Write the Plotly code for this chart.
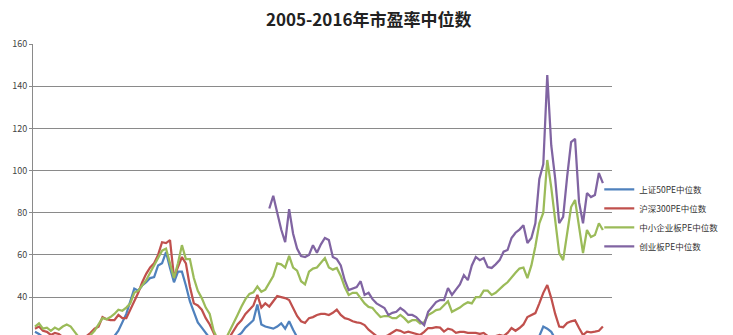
import plotly.graph_objects as go

# month index 0..143 (monthly, 2005-2016)
months = list(range(144))

sz50 = [23.5, 22.5, 21, 20, 19, 19, 18.5, 18, 18, 17.5, 17, 16.5, 16, 16.5, 17, 17.5,
        18, 18.5, 19.5, 20.5, 21.5, 24, 28, 32, 38, 44, 43, 45.5, 47, 49, 49.5, 55,
        56, 61.3, 53.8, 47, 52, 52, 45.5, 38, 33, 28, 25.5, 23, 21, 18, 15, 13.5,
        14, 16, 18.5, 21.5, 23, 25.5, 27.5, 29, 36.5, 27, 26, 25.5, 25, 26, 27.5, 25,
        28.5, 24.5, 21, 19, 18, 17.5, 17.5, 17, 17, 17, 16.5, 16.5, 16, 15.5, 15, 14.5,
        14, 13.5, 13, 12.5, 12, 11.5, 11, 11, 10.5, 10.5, 10, 10, 10, 9.5, 9.5, 9.5,
        9, 9, 9, 9.5, 9.5, 10, 10, 10.5, 10.5, 10, 10, 10.5, 10.5, 11, 11, 11,
        11, 11, 11.5, 11.5, 12, 12, 12.5, 13, 14, 15, 16, 17, 18, 19, 19, 21.5,
        26, 25, 23.5, 20, 17, 16, 16.5, 17, 17, 16, 15, 15.5, 15.5, 15.5, 15.5, 16]

hs300 = [25, 26, 24, 23.5, 22, 23, 22.5, 21, 20.5, 20, 19.5, 19, 20, 21.5, 23, 25,
         26, 30.5, 29.5, 29, 29, 31.5, 30, 30, 34, 38, 42, 47, 51, 54, 56, 60,
         66, 65.6, 67, 49.5, 54, 59, 56, 45, 37, 36, 34, 30, 27, 23, 19, 17,
         18, 21, 24, 27, 29, 32, 34, 36, 41, 35, 37, 35.5, 38, 40.5, 40, 39.5,
         38.6, 35, 31, 28.5, 27.7, 30, 30.5, 31.5, 32, 32, 31.5, 32.5, 34, 31.5, 30, 29.5,
         28.5, 28, 27.7, 26.7, 24.5, 23, 21.5, 21, 21, 22, 23, 24.4, 24, 23, 23.6, 23,
         22.5, 22, 23.5, 25.3, 25.3, 25.7, 25.5, 23.6, 25, 24.5, 23, 23.5, 23.5, 23, 23, 23,
         22.5, 23, 21.5, 21, 21.5, 22, 21.5, 23, 25.3, 24, 25.3, 27, 30.5, 31.5, 32.4, 37,
         42, 45.7, 39.5, 32, 26, 25.7, 27.7, 28.5, 29, 25.3, 22, 23.6, 23.3, 23.6, 24, 26]

zxb = [26, 27.5, 25, 25.5, 24, 25.5, 24.5, 26, 27, 26, 23.5, 21, 20, 19.5, 22, 24,
       27, 30, 29.5, 30.5, 32, 34, 33.5, 35, 37, 42, 43, 45.5, 48, 51.5, 55, 59,
       62, 63, 56, 49, 56, 64.6, 58, 58, 49, 43, 39.5, 35, 32, 24, 20, 18,
       20, 23.6, 27.5, 31.5, 35.5, 39, 41.5, 42.2, 45, 42.5, 43.5, 47, 50, 56, 55.5, 54,
       59.5, 54, 52.5, 47.5, 46, 52, 53.5, 54, 56, 58.5, 54, 53, 53.8, 50, 44.7, 41,
       42, 42, 39.5, 37, 35.3, 34.8, 32.5, 30.5, 31, 31, 30, 30, 31.5, 30, 28, 29,
       29, 27.5, 28, 31.5, 32.5, 33.8, 34.2, 36, 38, 33, 34, 35, 36.5, 37.5, 37, 40,
       40, 43, 43, 41, 42, 44, 45.5, 47, 49.5, 51.5, 53.5, 54, 49, 55, 64, 75,
       80, 105, 92, 76.5, 60.8, 57.5, 70.8, 82.7, 86, 73, 60.8, 71.8, 68.5, 69.4, 75, 71.8]

cyb_start = 59
cyb = [82, 88, 80, 72, 66, 81.7, 70, 63, 59.4, 59, 60, 64.6, 61, 65, 68, 67,
       59, 58, 55, 48, 43.3, 44, 44.7, 47.5, 41, 42, 39, 37, 36, 34.8, 31.5, 32.5,
       33, 34.8, 33.5, 31.5, 31.5, 30.5, 28.5, 26.7, 33, 35.5, 37.6, 38.6, 38.6, 44.3, 41, 43.5,
       46, 50.4, 48, 55, 59, 57.5, 58.5, 54.2, 53.8, 55.5, 57.5, 61.5, 62.3, 68, 70.5, 72,
       74.1, 65.6, 68, 75, 96, 103, 145.3, 112, 96, 75, 78, 97, 113.5, 115, 85, 75,
       89.3, 87.4, 88.4, 98.8, 94]

names = ["上证50PE中位数", "沪深300PE中位数", "中小企业板PE中位数", "创业板PE中位数"]
colors = ["#4F81BD", "#C0504D", "#9BBB59", "#8064A2"]

series_x = [months, months, months, months[cyb_start:cyb_start + len(cyb)]]
series_y = [sz50, hs300, zxb, cyb]

fig = go.Figure()
for nm, c, xs, ys in zip(names, colors, series_x, series_y):
    fig.add_trace(go.Scatter(x=xs, y=ys, mode="lines", name=nm,
                             line=dict(color=c, width=2.25)))

fig.update_layout(
    width=733, height=335,
    margin=dict(l=33, r=121, t=44, b=0, autoexpand=False),
    paper_bgcolor="white", plot_bgcolor="white",
    font=dict(family="Noto Sans CJK SC", color="#333333"),
    title=dict(text="<b>2005-2016年市盈率中位数</b>", x=0.503, xanchor="center",
               y=0.94, yanchor="middle", font=dict(size=17, color="#222222")),
    showlegend=True,
    legend=dict(x=0.978, xanchor="left", y=0.55, yanchor="top",
                font=dict(size=8.5, color="#333333"), bgcolor="rgba(0,0,0,0)",
                tracegroupgap=0),
)
fig.update_xaxes(range=[-0.5, 145.3], showgrid=False, showticklabels=False,
                 zeroline=False, showline=False)
fig.update_yaxes(range=[22, 160], dtick=20, tick0=0, showgrid=True,
                 gridcolor="#8a8a8a", gridwidth=1, zeroline=False,
                 showline=True, linecolor="#8a8a8a", linewidth=1,
                 ticks="outside", ticklen=3, tickcolor="#8a8a8a",
                 tickfont=dict(size=9, color="#444444"))

fig.write_html("out.html")
